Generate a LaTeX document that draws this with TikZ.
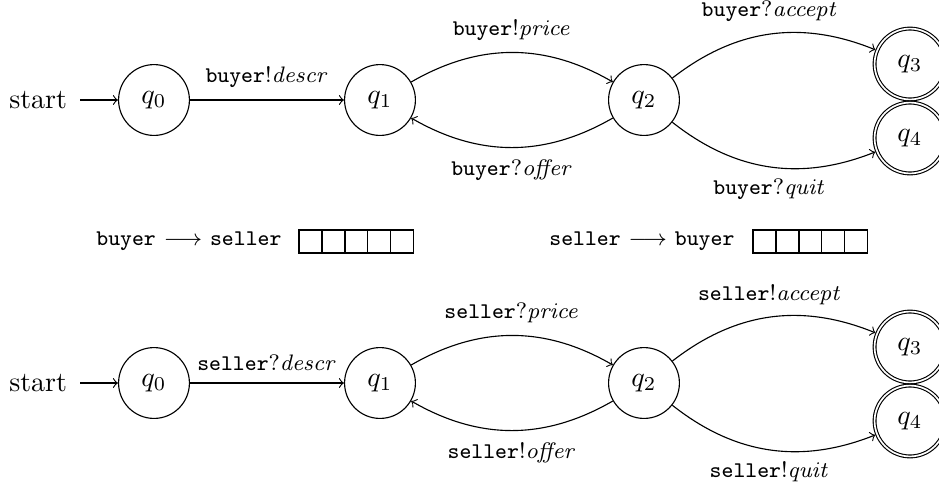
\documentclass[tikz,border=0pt]{standalone}
\usetikzlibrary{positioning}
\begin{document}
\begin{tikzpicture}[x=0.3571pt,y=0.3571pt,
  state/.style={circle,draw,minimum size=25.3pt,inner sep=0pt},
  final/.style={state,double,double distance=0.6pt,outer sep=0.7pt},
  lbl/.style={font=\footnotesize,inner sep=4.2pt}]
\useasboundingbox (0,0) rectangle (939,483);

% buyer side
\node[state] (b0) at (154,383) {$q_0$};
\node[state] (b1) at (380,383) {$q_1$};
\node[state] (b2) at (644,383) {$q_2$};
\node[final] (b3) at (910,419) {$q_3$};
\node[final] (b4) at (910,345) {$q_4$};
\node[left=13.5pt of b0, inner sep=4.5pt] (bst) {start};

\draw[->] (bst) -- (b0);
\draw[->] (b0) -- node[lbl,above] {$\mathtt{buyer}!\mathit{descr}$} (b1);
\draw[->] (b1) to[bend left] node[lbl,above] {$\mathtt{buyer}!\mathit{price}$} (b2);
\draw[->] (b2) to[bend left] node[lbl,below] {$\mathtt{buyer}?\mathit{offer}$} (b1);
\draw[->] (b2) to[bend left] node[lbl,above] {$\mathtt{buyer}?\mathit{accept}$} (b3);
\draw[->] (b2) to[bend right] node[lbl,below] {$\mathtt{buyer}?\mathit{quit}$} (b4);

% channels
\coordinate (cbs) at (299,230);
\coordinate (csb) at (753,230);
\foreach \i in {0,...,4} {
  \draw ([xshift=\i*8.2pt]cbs) rectangle ++(23,23);
  \draw ([xshift=\i*8.2pt]csb) rectangle ++(23,23);
}
\node[lbl, anchor=east, inner sep=0pt] (tbs) at (282,241.5) {\texttt{buyer} $\longrightarrow$ \texttt{seller}};
\node[lbl, anchor=east, inner sep=0pt] (tsb) at (735,241.5) {\texttt{seller} $\longrightarrow$ \texttt{buyer}};

% seller side
\node[state] (s0) at (154,100) {$q_0$};
\node[state] (s1) at (380,100) {$q_1$};
\node[state] (s2) at (644,100) {$q_2$};
\node[final] (s3) at (910,136) {$q_3$};
\node[final] (s4) at (910,62) {$q_4$};
\node[left=13.5pt of s0, inner sep=4.5pt] (sst) {start};

\draw[->] (sst) -- (s0);
\draw[->] (s0) -- node[lbl,above] {$\mathtt{seller}?\mathit{descr}$} (s1);
\draw[->] (s1) to[bend left] node[lbl,above] {$\mathtt{seller}?\mathit{price}$} (s2);
\draw[->] (s2) to[bend left] node[lbl,below] {$\mathtt{seller}!\mathit{offer}$} (s1);
\draw[->] (s2) to[bend left] node[lbl,above] {$\mathtt{seller}!\mathit{accept}$} (s3);
\draw[->] (s2) to[bend right] node[lbl,below] {$\mathtt{seller}!\mathit{quit}$} (s4);
\end{tikzpicture}
\end{document}
